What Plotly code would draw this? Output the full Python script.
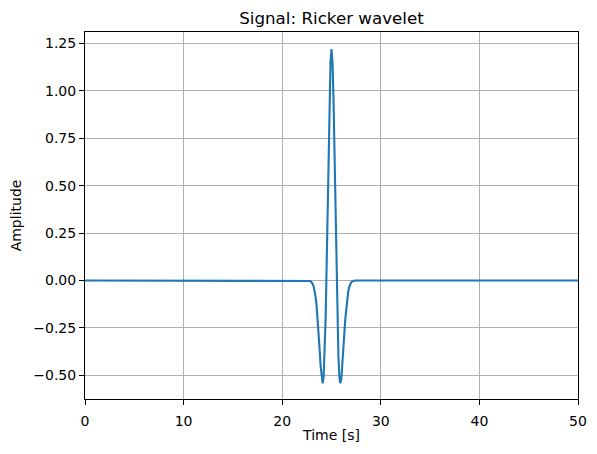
import plotly.graph_objects as go

# time samples [s] and amplitude
time_s = [0.0,
          22.6, 22.7, 22.8, 22.9, 23.0, 23.1, 23.2, 23.3, 23.4, 23.5,
          23.6, 23.7, 23.8, 23.9, 24.0, 24.1, 24.2, 24.3, 24.4, 24.5,
          24.6, 24.7, 24.8, 24.9, 25.0, 25.1, 25.2, 25.3, 25.4, 25.5,
          25.6, 25.7, 25.8, 25.9, 26.0, 26.1, 26.2, 26.3, 26.4, 26.5,
          26.6, 26.7, 26.8, 26.9, 27.0, 27.1, 27.2, 27.3, 27.4,
          50.0]
amplitude = [0.0,
             0.0, -0.001, -0.003, -0.005, -0.010, -0.019, -0.034, -0.057, -0.091, -0.139,
             -0.203, -0.281, -0.368, -0.452, -0.518, -0.542, -0.511, -0.400, -0.208, 0.058,
             0.370, 0.689, 0.965, 1.153, 1.220, 1.153, 0.965, 0.689, 0.370, 0.058,
             -0.208, -0.400, -0.511, -0.542, -0.518, -0.452, -0.368, -0.281, -0.203, -0.139,
             -0.091, -0.057, -0.034, -0.019, -0.010, -0.005, -0.003, -0.001, 0.0,
             0.0]

x_ticks = [0, 10, 20, 30, 40, 50]
y_ticks = [-0.50, -0.25, 0.00, 0.25, 0.50, 0.75, 1.00, 1.25]

font = dict(family='DejaVu Sans, sans-serif', size=14, color='black')

fig = go.Figure()
fig.add_trace(go.Scatter(
    x=time_s, y=amplitude, mode='lines',
    line=dict(color='#1f77b4', width=2.1),
    showlegend=False
))

axis_style = dict(
    showgrid=True, gridcolor='#b0b0b0', gridwidth=1,
    zeroline=False,
    showline=True, linecolor='black', linewidth=1, mirror=True,
    ticks='outside', ticklen=5, tickwidth=1, tickcolor='black',
    tickfont=font, automargin=False,
)

fig.update_layout(
    width=597, height=454,
    margin=dict(l=85, r=19, t=32, b=55),
    paper_bgcolor='white', plot_bgcolor='white',
    font=font,
    title=dict(text='Signal: Ricker wavelet', x=0.5, xref='paper',
               y=1 - 18 / 454, yref='container', yanchor='middle',
               font=dict(family='DejaVu Sans, sans-serif', size=16.7, color='black')),
)
fig.update_xaxes(axis_style, range=[0, 50], tickvals=x_ticks, ticklabelstandoff=4,
                 title=dict(text='Time [s]', font=font, standoff=2))
fig.update_yaxes(axis_style, range=[-0.625, 1.31], tickvals=y_ticks, tickformat='.2f',
                 title=dict(text='Amplitude', font=font, standoff=8))

# drop the browser's default body margin so the figure fills the window
fig.write_html("out.html", config={'displayModeBar': False},
               post_script="document.body.style.margin = '0';")
